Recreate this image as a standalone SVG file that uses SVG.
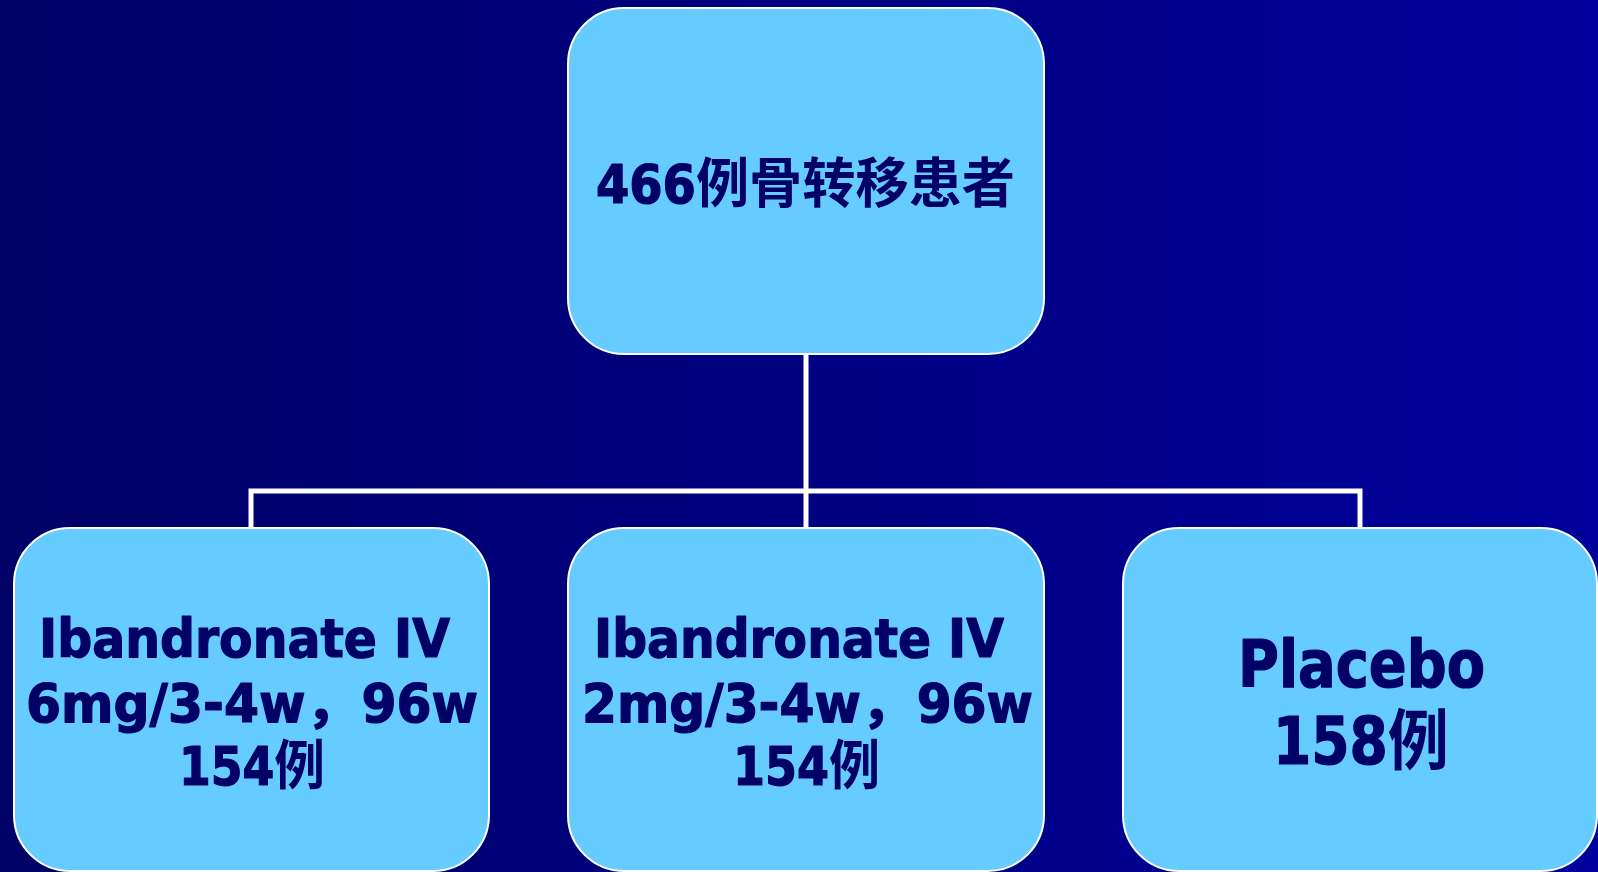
<svg xmlns="http://www.w3.org/2000/svg" width="1598" height="872" viewBox="0 0 1598 872">
  <defs>
    <linearGradient id="bg" x1="0" y1="0" x2="1" y2="0">
      <stop offset="0" stop-color="#000066"/>
      <stop offset="1" stop-color="#00009C"/>
    </linearGradient>
  </defs>
  <style>
    .box { fill: #66CCFF; stroke: #FFFFFF; stroke-width: 2; }
    .t { fill: #000066; stroke: #000066; stroke-width: 1.2; stroke-linejoin: round; font-family: "DejaVu Sans Condensed", "DejaVu Sans", "Noto Sans CJK SC", sans-serif; font-weight: bold; }
    .c { stroke: none; }
    .s { font-size: 54px; }
    .l { font-size: 66px; }
    .conn { fill: none; stroke: #FFFFFF; stroke-width: 5; }
  </style>
  <rect x="0" y="0" width="1598" height="872" fill="url(#bg)"/>
  <g id="connectors">
    <path class="conn" d="M806 354 V491"/>
    <path class="conn" d="M251 528 V491 H1360 V528"/>
    <path class="conn" d="M806 491 V528"/>
  </g>
  <g id="root">
    <rect class="box" x="568" y="8" width="476" height="346" rx="56" ry="56"/>
    <text class="t s" x="596" y="203" textLength="419" lengthAdjust="spacingAndGlyphs">466<tspan class="c">例骨转移患者</tspan></text>
  </g>
  <g id="arm6mg">
    <rect class="box" x="14" y="528" width="475" height="343" rx="56" ry="56"/>
    <text class="t s" x="39" y="657" textLength="411" lengthAdjust="spacingAndGlyphs">Ibandronate IV</text>
    <text class="t s" x="26" y="722" textLength="452" lengthAdjust="spacingAndGlyphs">6mg/3-4w，96w</text>
    <text class="t s" x="179" y="785" textLength="146" lengthAdjust="spacingAndGlyphs">154<tspan class="c">例</tspan></text>
  </g>
  <g id="arm2mg">
    <rect class="box" x="568" y="528" width="476" height="343" rx="56" ry="56"/>
    <text class="t s" x="594" y="657" textLength="410" lengthAdjust="spacingAndGlyphs">Ibandronate IV</text>
    <text class="t s" x="582" y="722" textLength="451" lengthAdjust="spacingAndGlyphs">2mg/3-4w，96w</text>
    <text class="t s" x="733" y="785" textLength="147" lengthAdjust="spacingAndGlyphs">154<tspan class="c">例</tspan></text>
  </g>
  <g id="placebo">
    <rect class="box" x="1123" y="528" width="474" height="343" rx="56" ry="56"/>
    <text class="t l" x="1238" y="687" textLength="247" lengthAdjust="spacingAndGlyphs">Placebo</text>
    <text class="t l" x="1273" y="764" textLength="176" lengthAdjust="spacingAndGlyphs">158<tspan class="c">例</tspan></text>
  </g>
</svg>
